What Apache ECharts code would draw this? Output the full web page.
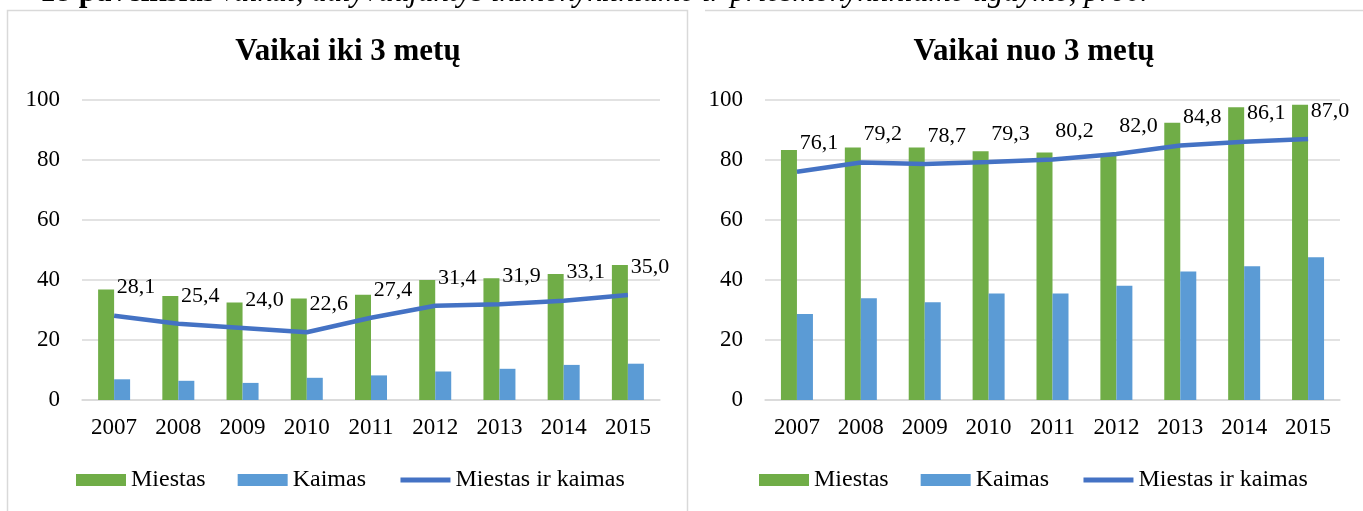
<!DOCTYPE html>
<html>
<head>
<meta charset="utf-8">
<script src="https://cdn.jsdelivr.net/npm/echarts@6/dist/echarts.min.js"></script>
<style>
  html, body { margin: 0; padding: 0; background: #fff; }
  #chart { width: 1363px; height: 511px; }
</style>
</head>
<body>
<div id="chart"></div>
<script>
const years = ['2007', '2008', '2009', '2010', '2011', '2012', '2013', '2014', '2015'];

// Vaikai iki 3 metų
const under3City = [36.8, 34.7, 32.5, 33.8, 35.1, 40.0, 40.6, 42.0, 45.0];
const under3Rural = [6.9, 6.4, 5.7, 7.4, 8.2, 9.5, 10.4, 11.7, 12.1];
const under3Total = [28.1, 25.4, 24.0, 22.6, 27.4, 31.4, 31.9, 33.1, 35.0];

// Vaikai nuo 3 metų
const over3City = [83.3, 84.2, 84.2, 82.9, 82.5, 81.5, 92.4, 97.6, 98.4];
const over3Rural = [28.7, 33.9, 32.6, 35.5, 35.5, 38.1, 42.8, 44.6, 47.6];
const over3Total = [76.1, 79.2, 78.7, 79.3, 80.2, 82.0, 84.8, 86.1, 87.0];

const yTicks = [0, 20, 40, 60, 80, 100];

const FONT = '"Liberation Serif", "Times New Roman", serif';
const GREEN = '#70AD47';
const BLUE = '#5B9BD5';
const LINE = '#4472C4';
const GRIDC = '#d9d9d9';

const fmt = (p) => p.value.toFixed(1).replace('.', ',');

function makeAxes(idx) {
  return {
    x: {
      type: 'category',
      gridIndex: idx,
      data: years,
      axisTick: { show: false },
      axisLine: { lineStyle: { color: GRIDC, width: 1.5 } },
      axisLabel: { color: '#000', fontFamily: FONT, fontSize: 23, margin: 16 }
    },
    y: {
      type: 'value',
      gridIndex: idx,
      min: yTicks[0],
      max: yTicks[yTicks.length - 1],
      interval: yTicks[1] - yTicks[0],
      axisLine: { show: false },
      axisTick: { show: false },
      splitLine: { lineStyle: { color: GRIDC, width: 1.5 } },
      axisLabel: { color: '#000', fontFamily: FONT, fontSize: 23, margin: 22 }
    }
  };
}

function makeSeries(idx, city, rural, total) {
  return [
    {
      name: 'Miestas', type: 'bar', xAxisIndex: idx, yAxisIndex: idx,
      data: city, barWidth: 16, barGap: '0%',
      itemStyle: { color: GREEN }
    },
    {
      name: 'Kaimas', type: 'bar', xAxisIndex: idx, yAxisIndex: idx,
      data: rural, barWidth: 16, barGap: '0%',
      itemStyle: { color: BLUE }
    },
    {
      name: 'Miestas ir kaimas', type: 'line', xAxisIndex: idx, yAxisIndex: idx,
      data: total, symbol: 'circle', symbolSize: 0, showSymbol: true, z: 5,
      lineStyle: { color: LINE, width: 4.5 },
      itemStyle: { color: LINE },
      label: {
        show: true, position: 'top', distance: 0, offset: [22, -17],
        color: '#000', fontFamily: FONT, fontSize: 22, formatter: fmt
      }
    }
  ];
}

const a0 = makeAxes(0);
const a1 = makeAxes(1);

const legendBase = {
  padding: 0,
  itemWidth: 50,
  itemHeight: 12,
  itemGap: 32,
  textStyle: { color: '#000', fontFamily: FONT, fontSize: 24 },
  data: [
    { name: 'Miestas', icon: 'rect' },
    { name: 'Kaimas', icon: 'rect' },
    { name: 'Miestas ir kaimas', itemStyle: { opacity: 0 }, lineStyle: { width: 5 } }
  ],
  selectedMode: false
};

const option = {
  animation: false,
  title: [
    {
      text: 'Vaikai iki 3 metų', left: 343, top: 31, textAlign: 'center',
      textStyle: { fontFamily: FONT, fontSize: 31, fontWeight: 'bold', color: '#000' }
    },
    {
      text: 'Vaikai nuo 3 metų', left: 1029, top: 31, textAlign: 'center',
      textStyle: { fontFamily: FONT, fontSize: 31, fontWeight: 'bold', color: '#000' }
    }
  ],
  legend: [
    Object.assign({}, legendBase, { left: 76, top: 468 }),
    Object.assign({}, legendBase, { left: 759, top: 468 })
  ],
  grid: [
    { left: 82, right: 703, top: 100, bottom: 111 },
    { left: 765, right: 23, top: 100, bottom: 111 }
  ],
  xAxis: [a0.x, a1.x],
  yAxis: [a0.y, a1.y],
  series: [
    ...makeSeries(0, under3City, under3Rural, under3Total),
    ...makeSeries(1, over3City, over3Rural, over3Total)
  ],
  graphic: [
    {
      type: 'rect', silent: true,
      shape: { x: 7.5, y: 10.5, width: 680, height: 520 },
      style: { fill: 'none', stroke: GRIDC, lineWidth: 1.5 }
    },
    {
      type: 'line', silent: true,
      shape: { x1: 705, y1: 10.5, x2: 1363, y2: 10.5 },
      style: { stroke: GRIDC, lineWidth: 1.5 }
    },
    {
      type: 'text', silent: true, x: 40, y: -7,
      style: {
        text: '{b|18 paveikslas} {i|Vaikai, dalyvaujantys ikimokykliniame ir priešmokykliniame ugdyme, proc.}',
        verticalAlign: 'middle',
        rich: {
          b: { fontFamily: FONT, fontSize: 31, fontWeight: 'bold', fill: '#000' },
          i: { fontFamily: FONT, fontSize: 31, fontStyle: 'italic', fill: '#000' }
        }
      }
    }
  ]
};

const myChart = echarts.init(document.getElementById('chart'));
myChart.setOption(option);
</script>
</body>
</html>
